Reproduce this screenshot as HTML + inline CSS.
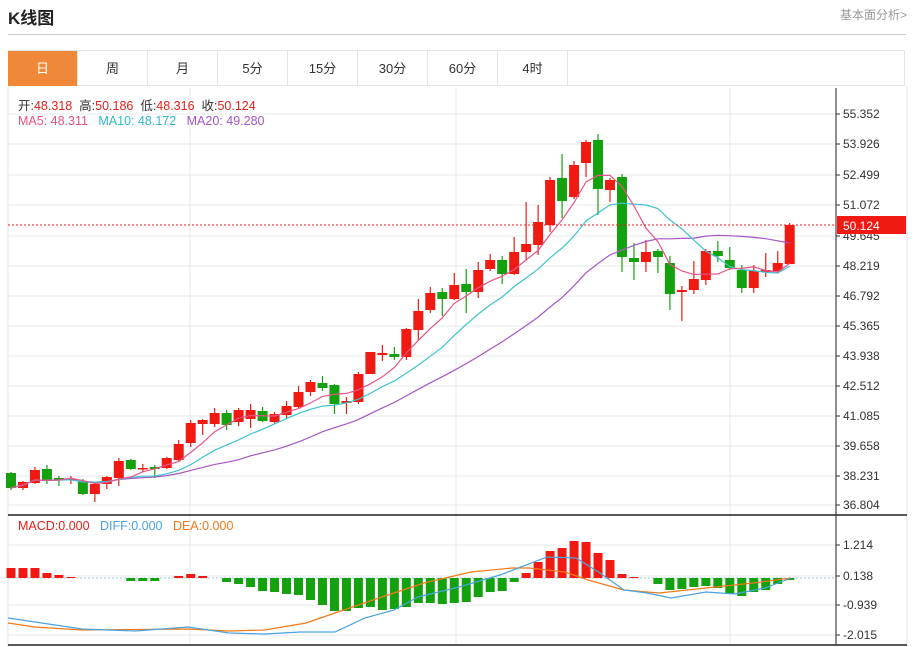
<!DOCTYPE html>
<html><head><meta charset="utf-8"><style>
body{margin:0;width:918px;height:647px;background:#fff;font-family:"Liberation Sans","Noto Sans CJK SC",sans-serif;overflow:hidden;position:relative}
.t{position:absolute;white-space:nowrap}
.tab{position:absolute;top:51px;height:35px;width:69px;border-right:1px solid #e5e5e5;text-align:center;line-height:35px;font-size:13px;color:#333}
</style></head><body>
<div class="t" style="left:8px;top:4px;font-size:17px;font-weight:bold;color:#222">K线图</div>
<div class="t" style="left:840px;top:6px;font-size:12px;color:#999">基本面分析&gt;</div>
<div style="position:absolute;left:8px;top:34px;width:898px;height:1px;background:#ccc"></div>
<div style="position:absolute;left:8px;top:50px;width:897px;height:36px;border:1px solid #e5e5e5;box-sizing:border-box"></div>
<div class="tab" style="left:8px;background:#f0883a;color:#fff">日</div>
<div class="tab" style="left:78px">周</div>
<div class="tab" style="left:148px">月</div>
<div class="tab" style="left:218px">5分</div>
<div class="tab" style="left:288px">15分</div>
<div class="tab" style="left:358px">30分</div>
<div class="tab" style="left:428px">60分</div>
<div class="tab" style="left:498px">4时</div>
<svg id="s" width="918" height="647" style="position:absolute;left:0;top:0"></svg>
<div class="t" style="left:18px;top:95px;font-size:12.5px;color:#333">开:<span style="color:#e3211a">48.318</span>&nbsp;&nbsp;高:<span style="color:#e3211a">50.186</span>&nbsp;&nbsp;低:<span style="color:#e3211a">48.316</span>&nbsp;&nbsp;收:<span style="color:#e3211a">50.124</span></div>
<div class="t" style="left:18px;top:114px;font-size:12.5px"><span style="color:#e8538a">MA5: 48.311</span>&nbsp;&nbsp;&nbsp;<span style="color:#2fb8c9">MA10: 48.172</span>&nbsp;&nbsp;&nbsp;<span style="color:#a855c7">MA20: 49.280</span></div>
<div class="t" style="left:18px;top:519px;font-size:12.5px"><span style="color:#e3211a">MACD:0.000</span>&nbsp;&nbsp;&nbsp;<span style="color:#4aa3e0">DIFF:0.000</span>&nbsp;&nbsp;&nbsp;<span style="color:#f07a1a">DEA:0.000</span></div>
<script>
var S=document.getElementById('s'),h='';
function L(x1,y1,x2,y2,c,w,d){h+='<line x1="'+x1+'" y1="'+y1+'" x2="'+x2+'" y2="'+y2+'" stroke="'+c+'" stroke-width="'+(w||1)+'"'+(d?' stroke-dasharray="'+d+'"':'')+'/>';}
function T(x,y,s,c){h+='<text x="'+x+'" y="'+y+'" font-size="12" fill="'+(c||'#333')+'" font-family="Liberation Sans,sans-serif">'+s+'</text>';}
L(8,86,8,647,'#e5e5e5');L(907,86,907,647,'#e5e5e5');
var ly=[114,144,175,205,236,266,296,326,356,386,416,446,476,505];
var lb=['55.352','53.926','52.499','51.072','49.645','48.219','46.792','45.365','43.938','42.512','41.085','39.658','38.231','36.804'];
ly.forEach(function(y,i){L(8,y,836,y,'#e6e9ee');L(836,y,840,y,'#333');T(843,y+4,lb[i]);});
[190,456,730].forEach(function(x){L(x,88,x,645,'#e6e9ee');});
var my=[545,576,605,635],ml=['1.214','0.138','-0.939','-2.015'];
my.forEach(function(y,i){L(8,y,836,y,'#e6e9ee');L(836,y,840,y,'#333');T(843,y+4,ml[i]);});
var C=[['g',473,488,472,490],['r',482,488,481,490],['r',470,483,467,484],['g',469,481,465,484],['g',478,479,476,486],['r',479,480,476,484],['g',481,494,479,495],['r',484,494,482,502],['r',477,484,476,489],['r',461,478,458,486],['g',460,469,459,470],['r',468,469,464,472],['g',467,469,465,478],['r',458,468,457,469],['r',444,460,440,462],['r',423,443,420,447],['r',420,424,419,435],['r',413,424,408,427],['g',413,425,410,430],['r',410,422,408,426],['r',410,419,404,428],['g',411,421,407,422],['r',414,422,412,424],['r',406,415,401,418],['r',392,407,386,408],['r',382,392,380,396],['g',383,388,376,391],['g',385,404,384,414],['r',401,403,397,414],['r',374,402,372,404],['r',352,374,352,374],['r',353,355,345,361],['g',354,357,347,360],['r',329,357,328,360],['r',311,330,299,340],['r',293,310,287,313],['g',292,299,288,316],['r',285,299,273,300],['g',284,292,269,313],['r',270,292,262,298],['r',260,269,254,271],['g',260,274,256,284],['r',252,274,237,275],['r',244,252,202,260],['r',222,245,205,255],['r',180,225,177,232],['g',178,201,154,218],['r',165,197,161,199],['r',142,163,140,177],['g',140,189,134,215],['r',180,190,178,202],['g',177,257,174,272],['g',258,262,243,280],['r',252,262,240,272],['g',251,257,249,273],['g',263,294,256,310],['r',290,292,286,321],['r',279,290,261,294],['r',251,280,249,285],['g',251,256,241,262],['g',260,268,247,270],['g',270,288,265,293],['r',271,288,265,293],['r',270,272,253,277],['r',263,271,251,272],['r',225,264,223,264]];
var R='#f01a12',G='#13a10e';
function X(i){return 11+i*11.98;}
var cl=C.map(function(c){return c[0]=='r'?c[1]:c[2];});
function ma(n){var p=[];for(var i=0;i<cl.length;i++){var s=0,k=0;for(var j=Math.max(0,i-n+1);j<=i;j++){s+=cl[j];k++;}p.push(X(i).toFixed(1)+','+(s/k).toFixed(1));}return p.join(' ');}
C.forEach(function(c,i){var x=X(i),col=c[0]=='r'?R:G;L(x,c[3],x,c[4],col,1.2);var bh=Math.max(1.5,c[2]-c[1]);h+='<rect x="'+(x-5)+'" y="'+c[1]+'" width="10" height="'+bh+'" fill="'+col+'"/>';});
h+='<polyline points="'+ma(20)+'" fill="none" stroke="#a855c7" stroke-width="1.2"/>';
h+='<polyline points="'+ma(10)+'" fill="none" stroke="#3cc3d0" stroke-width="1.2"/>';
h+='<polyline points="'+ma(5)+'" fill="none" stroke="#e8538a" stroke-width="1.2"/>';
L(8,225,836,225,'#e3211a',1,'2,2');
h+='<rect x="837" y="216" width="69" height="18" fill="#f01a12"/>';T(843,230,'50.124','#fff');
L(836,88,836,645,'#222');L(8,515,907,515,'#222',1.5);L(8,645,907,645,'#222',1.5);
var z=578;
var M=[568,568,568,573,575,577,578,578,578,578,581,581,581,578,576,574,576,578,582,584,587,591,592,594,595,600,605,611,611,608,607,610,609,607,603,603,604,603,602,597,592,591,582,573,562,551,548,541,542,553,560,574,577,578,584,590,589,587,586,588,594,596,592,590,584,580];
L(8,z,836,z,'#9cc9e0',1,'2,2');
M.forEach(function(y,i){var x=X(i),col=y<z?R:G;var t=Math.min(y,z),hh=Math.abs(y-z);if(hh<0.5)return;h+='<rect x="'+(x-4.5)+'" y="'+t+'" width="9" height="'+hh+'" fill="'+col+'"/>';});
h+='<polyline points="8,623 35,627 82,630 188,629 229,631 265,630 306,623 335,613 382,597 424,583 471,572 512,568 529,568 565,572 588,580 624,590 659,593 706,588 753,583 791,578" fill="none" stroke="#f07a1a" stroke-width="1.2"/>';
h+='<polyline points="8,618 35,622 82,629 135,631 188,627 229,633 265,634 300,632 335,632 365,618 394,610 418,597 459,587 500,575 547,557 576,558 600,573 624,590 647,593 671,598 706,592 735,594 765,588 791,578" fill="none" stroke="#4aa3e0" stroke-width="1.2"/>';
S.innerHTML=h;
</script>
</body></html>
